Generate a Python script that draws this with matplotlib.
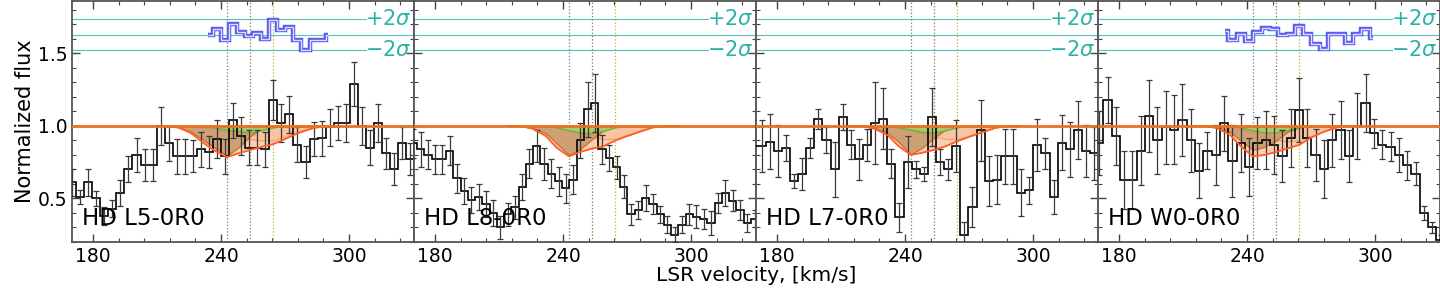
import matplotlib
matplotlib.use('Agg')
import matplotlib.pyplot as plt
import matplotlib.transforms as mtransforms
from matplotlib.ticker import MultipleLocator
import numpy as np

# ---- spectra (per panel: first bin edge, bin width, flux, 1-sigma error) ----
NAMES = ['HD L5-0R0', 'HD L8-0R0', 'HD L7-0R0', 'HD W0-0R0']

P1_START, P1_WIDTH = 168.37, 3.77
P1_FLUX = [0.61, 0.51, 0.61, 0.50, 0.38, 0.43, 0.54, 0.70, 0.80, 0.73,
           0.73, 1.00, 0.88, 0.79, 0.79, 0.79, 0.84, 0.82, 0.91, 0.79,
           1.04, 0.93, 0.85, 0.85, 0.84, 1.18, 1.02, 1.08, 0.87, 0.75,
           0.91, 0.915, 0.99, 1.02, 1.02, 1.29, 1.00, 0.85, 1.02, 0.81,
           0.70, 0.88, 0.77, 0.88]
P1_ERR = [0.09, 0.05, 0.09, 0.05, 0.06, 0.06, 0.09, 0.09, 0.12, 0.11,
          0.11, 0.13, 0.12, 0.12, 0.12, 0.11, 0.12, 0.11, 0.13, 0.12,
          0.12, 0.13, 0.12, 0.12, 0.12, 0.14, 0.13, 0.13, 0.12, 0.11,
          0.12, 0.12, 0.13, 0.12, 0.13, 0.15, 0.13, 0.12, 0.13, 0.11,
          0.11, 0.11, 0.11, 0.12]

P2_START, P2_WIDTH = 168.2, 3.4
P2_FLUX = [0.88, 0.84, 0.80, 0.77, 0.77, 0.83, 0.64, 0.55, 0.49, 0.51,
           0.46, 0.40, 0.30, 0.39, 0.44, 0.58, 0.74, 0.86, 0.74, 0.67,
           0.62, 0.57, 0.63, 0.90, 1.115, 1.16, 0.84, 0.78, 0.715, 0.58,
           0.39, 0.42, 0.50, 0.46, 0.39, 0.32, 0.25, 0.32, 0.39, 0.375,
           0.36, 0.33, 0.47, 0.54, 0.485, 0.42, 0.33, 0.36]
P2_ERR = [0.10, 0.12, 0.10, 0.10, 0.10, 0.10, 0.10, 0.09, 0.09, 0.09,
          0.09, 0.09, 0.08, 0.08, 0.08, 0.09, 0.10, 0.11, 0.11, 0.10,
          0.10, 0.10, 0.10, 0.12, 0.19, 0.20, 0.10, 0.09, 0.08, 0.08,
          0.07, 0.06, 0.09, 0.07, 0.06, 0.06, 0.05, 0.06, 0.07, 0.08,
          0.07, 0.08, 0.07, 0.09, 0.07, 0.07, 0.06, 0.06]

P3_START, P3_WIDTH = 167.1, 3.8
P3_FLUX = [0.86, 0.86, 0.89, 0.83, 0.845, 0.62, 0.67, 0.85, 1.05, 0.90,
           0.70, 1.06, 0.87, 0.77, 0.87, 1.02, 1.05, 0.74, 0.37, 0.75,
           0.70, 0.67, 1.06, 0.75, 0.70, 0.86, 0.25, 0.44, 0.97, 0.62,
           0.63, 0.79, 0.79, 0.54, 0.555, 0.87, 0.81, 0.51, 0.885, 0.84,
           0.97, 0.83, 0.81, 1.00]
P3_ERR = [0.18, 0.18, 0.19, 0.18, 0.09, 0.05, 0.11, 0.07, 0.07, 0.09,
          0.19, 0.09, 0.10, 0.14, 0.11, 0.28, 0.21, 0.10, 0.10, 0.18,
          0.06, 0.05, 0.20, 0.09, 0.07, 0.18, 0.09, 0.14, 0.21, 0.17,
          0.17, 0.19, 0.19, 0.16, 0.09, 0.18, 0.11, 0.12, 0.19, 0.19,
          0.20, 0.18, 0.18, 0.18]

P4_START, P4_WIDTH = 168.8, 3.9
P4_FLUX = [0.88, 1.18, 0.93, 0.625, 0.625, 0.83, 1.07, 0.90, 0.99, 0.975,
           1.04, 0.90, 0.69, 0.83, 0.80, 1.02, 0.76, 0.88, 0.72, 0.88,
           0.90, 0.87, 0.79, 0.92, 1.11, 0.92, 0.80, 0.70, 0.90, 0.97,
           0.79, 1.00, 1.16, 0.95, 0.87, 0.855, 0.80, 0.73, 0.67, 0.40,
           0.30, 0.21]
P4_ERR = [0.22, 0.16, 0.20, 0.20, 0.20, 0.24, 0.25, 0.23, 0.25, 0.24,
          0.25, 0.22, 0.19, 0.13, 0.21, 0.19, 0.25, 0.20, 0.20, 0.18,
          0.20, 0.20, 0.18, 0.20, 0.22, 0.20, 0.18, 0.20, 0.18, 0.20,
          0.18, 0.23, 0.20, 0.10, 0.10, 0.10, 0.12, 0.10, 0.08, 0.05,
          0.04, 0.04]

# ---- absorption model components, read at these velocities ----
MODEL_V = [214, 220, 226, 232, 237, 242.8, 248, 253.7, 259, 264.5,
           270, 276, 282, 288, 294]

P1_BROWN = [1.0, 0.99, 0.96, 0.90, 0.85, 0.795, 0.85, 0.93, 0.98, 1.0, 1.0, 1.0, 1.0, 1.0, 1.0]
P1_GREEN = [1.0, 1.0, 1.0, 1.0, 0.99, 0.975, 0.965, 0.955, 0.97, 0.99, 1.0, 1.0, 1.0, 1.0, 1.0]
P1_ORANGE = [1.0, 1.0, 1.0, 0.99, 0.98, 0.96, 0.93, 0.91, 0.90, 0.90, 0.93, 0.96, 0.985, 1.0, 1.0]
P1_TOTAL = [1.0, 0.99, 0.95, 0.88, 0.83, 0.785, 0.81, 0.835, 0.855, 0.875, 0.91, 0.95, 0.98, 1.0, 1.0]

P2_BROWN = [1.0, 1.0, 0.985, 0.95, 0.88, 0.80, 0.84, 0.91, 0.97, 1.0, 1.0, 1.0, 1.0, 1.0, 1.0]
P2_GREEN = [1.0, 1.0, 1.0, 1.0, 0.99, 0.97, 0.955, 0.95, 0.965, 0.99, 1.0, 1.0, 1.0, 1.0, 1.0]
P2_ORANGE = [1.0, 1.0, 1.0, 1.0, 0.99, 0.97, 0.94, 0.92, 0.91, 0.91, 0.935, 0.965, 0.99, 1.0, 1.0]
P2_TOTAL = [1.0, 1.0, 0.98, 0.93, 0.85, 0.79, 0.82, 0.845, 0.86, 0.90, 0.93, 0.96, 0.99, 1.0, 1.0]

P3_BROWN = [1.0, 1.0, 0.985, 0.95, 0.89, 0.805, 0.85, 0.92, 0.975, 1.0, 1.0, 1.0, 1.0, 1.0, 1.0]
P3_GREEN = [1.0, 1.0, 1.0, 1.0, 0.99, 0.975, 0.96, 0.955, 0.97, 0.99, 1.0, 1.0, 1.0, 1.0, 1.0]
P3_ORANGE = [1.0, 1.0, 1.0, 1.0, 0.99, 0.97, 0.945, 0.925, 0.91, 0.91, 0.93, 0.96, 0.99, 1.0, 1.0]
P3_TOTAL = [1.0, 1.0, 0.98, 0.935, 0.86, 0.80, 0.815, 0.835, 0.86, 0.895, 0.925, 0.955, 0.985, 1.0, 1.0]

P4_BROWN = [1.0, 1.0, 0.99, 0.96, 0.90, 0.835, 0.855, 0.90, 0.96, 0.99, 1.0, 1.0, 1.0, 1.0, 1.0]
P4_GREEN = [1.0, 1.0, 1.0, 1.0, 0.99, 0.97, 0.955, 0.955, 0.97, 0.99, 1.0, 1.0, 1.0, 1.0, 1.0]
P4_ORANGE = [1.0, 1.0, 1.0, 0.99, 0.975, 0.95, 0.92, 0.90, 0.895, 0.90, 0.93, 0.965, 0.99, 1.0, 1.0]
P4_TOTAL = [1.0, 1.0, 0.985, 0.94, 0.86, 0.79, 0.80, 0.82, 0.845, 0.87, 0.92, 0.96, 0.99, 1.0, 1.0]

# ---- residual strips (only shown for two sightlines) ----
P1_RES_EDGES = [234.1, 236.3, 240.0, 243.8, 247.6, 251.3, 255.1, 258.9, 262.6,
                266.4, 270.2, 273.9, 277.7, 281.5, 285.2, 289.0, 290.3]
P1_RES = [1.625, 1.67, 1.595, 1.705, 1.65, 1.62, 1.64, 1.60, 1.73, 1.66,
          1.68, 1.59, 1.525, 1.595, 1.595, 1.63]
P4_RES_EDGES = [229.7, 231.2, 235.1, 239.0, 242.9, 246.8, 250.7, 254.6, 258.5,
                262.4, 266.3, 270.2, 274.1, 278.0, 281.9, 285.8, 289.7, 293.6,
                297.5, 299.2]
P4_RES = [1.653, 1.595, 1.637, 1.586, 1.648, 1.678, 1.667, 1.625, 1.637, 1.69,
          1.637, 1.568, 1.529, 1.637, 1.632, 1.572, 1.632, 1.671, 1.607]

RES_ZERO = 1.63
RES_2SIG = 0.107
COMPONENT_V = [242.8, 253.7, 264.5]

PANELS = [
    (P1_START, P1_WIDTH, P1_FLUX, P1_ERR, P1_BROWN, P1_GREEN, P1_ORANGE, P1_TOTAL,
     P1_RES_EDGES, P1_RES),
    (P2_START, P2_WIDTH, P2_FLUX, P2_ERR, P2_BROWN, P2_GREEN, P2_ORANGE, P2_TOTAL,
     None, None),
    (P3_START, P3_WIDTH, P3_FLUX, P3_ERR, P3_BROWN, P3_GREEN, P3_ORANGE, P3_TOTAL,
     None, None),
    (P4_START, P4_WIDTH, P4_FLUX, P4_ERR, P4_BROWN, P4_GREEN, P4_ORANGE, P4_TOTAL,
     P4_RES_EDGES, P4_RES),
]

XLIM = (170.2, 330.4)
YLIM = (0.2, 1.865)
SIG_COLOR = '#2ab3a6'
VLINE_COLORS = ['#4f8c8c', '#7d7d3c', '#b3b33c']


def draw_panel(ax, name, start, width, flux, err, brown, green, orange, total,
               res_edges, res):
    flux = np.asarray(flux)
    edges = start + width * np.arange(len(flux) + 1)
    centers = 0.5 * (edges[:-1] + edges[1:])

    for v, c in zip(COMPONENT_V, VLINE_COLORS):
        ax.axvline(v, color=c, ls=':', lw=0.9, zorder=1)

    # residual strip with +-2 sigma guides
    ax.axhline(RES_ZERO, color=SIG_COLOR, lw=0.8, alpha=0.8, zorder=1)
    trans = mtransforms.blended_transform_factory(ax.transAxes, ax.transData)
    for sgn, lab in ((1, r'$+2\sigma$'), (-1, r'$-2\sigma$')):
        y = RES_ZERO + sgn * RES_2SIG
        ax.axhline(y, xmax=0.86, color=SIG_COLOR, lw=0.8, alpha=0.8, zorder=1)
        ax.text(0.992, y, lab, transform=trans, ha='right', va='center',
                color=SIG_COLOR, fontsize=15)
    if res is not None:
        ax.stairs(res, res_edges, baseline=None, color='#5c5cf0', lw=3.2, zorder=3)
        ax.stairs(res, res_edges, baseline=None, color='#dcdcff', lw=1.0, zorder=3)

    mv = np.asarray(MODEL_V)
    ax.fill_between(mv, total, 1.0, color='#f9c6a8', alpha=0.85, lw=0, zorder=2)
    ax.fill_between(mv, orange, 1.0, facecolor='#f7b98a', edgecolor='#e8832f',
                    alpha=0.45, lw=1.0, zorder=2)
    ax.fill_between(mv, brown, 1.0, facecolor='#c49565', edgecolor='#c0651f',
                    alpha=0.8, lw=1.0, zorder=2)
    ax.fill_between(mv, green, 1.0, facecolor='#a3d36b', edgecolor='#6aa535',
                    alpha=0.85, lw=0.9, zorder=2)

    ax.stairs(flux, edges, baseline=None, color='black', lw=1.2, zorder=3)
    ax.errorbar(centers, flux, yerr=err, fmt='none', ecolor='#3a3a3a',
                elinewidth=0.9, capsize=2, capthick=0.9, zorder=3)

    ax.plot(mv, total, color='#ff5e22', lw=1.3, zorder=4)
    ax.axhline(1.0, color='#e8731f', lw=2.0, zorder=4)

    ax.text(0.03, 0.05, name, transform=ax.transAxes, fontsize=16.5,
            ha='left', va='bottom', zorder=5)

    ax.set_xlim(*XLIM)
    ax.set_ylim(*YLIM)
    ax.xaxis.set_major_locator(MultipleLocator(60))
    ax.xaxis.set_minor_locator(MultipleLocator(12))
    ax.yaxis.set_major_locator(MultipleLocator(0.5))
    ax.yaxis.set_minor_locator(MultipleLocator(0.1))
    ax.tick_params(which='both', direction='in', top=True, right=True,
                   labelsize=13.5, colors='#444444', labelcolor='black')
    ax.tick_params(which='major', length=6, width=1.0)
    ax.tick_params(which='minor', length=3, width=0.8)
    for sp in ax.spines.values():
        sp.set_color('#555555')
        sp.set_linewidth(1.3)


fig = plt.figure(figsize=(14.4, 2.88), dpi=100)
left, bottom, pw, ph = 72 / 1440, 0.16, 342 / 1440, 0.838
axes = []
for i, (name, panel) in enumerate(zip(NAMES, PANELS)):
    ax = fig.add_axes([left + i * pw, bottom, pw, ph])
    draw_panel(ax, name, *panel)
    if i > 0:
        ax.tick_params(labelleft=False)
    axes.append(ax)

axes[0].set_ylabel('Normalized flux', fontsize=15, labelpad=2)
fig.text(0.525, 0.045, 'LSR velocity, [km/s]', ha='center', va='center', fontsize=14.5)

fig.savefig('out.png', dpi=100)
